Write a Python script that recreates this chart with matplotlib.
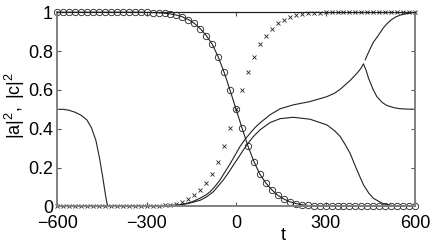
import matplotlib
matplotlib.use('Agg')
import matplotlib.pyplot as plt
import numpy as np

plt.rcParams['font.family'] = ['Liberation Sans', 'DejaVu Sans']
plt.rcParams['mathtext.fontset'] = 'custom'
plt.rcParams['mathtext.rm'] = 'Liberation Sans'
plt.rcParams['mathtext.it'] = 'Liberation Sans'

# marker time grid and the two marker series
t_mark = np.arange(-600, 601, 20)
circ = [1.0, 1.0, 1.0, 1.0, 1.0, 1.0, 1.0, 1.0, 1.0, 1.0, 1.0, 1.0, 1.0, 1.0, 1.0,
        0.999, 0.998, 0.997, 0.995, 0.991, 0.985, 0.976, 0.962, 0.943, 0.915,
        0.88, 0.835, 0.77, 0.69, 0.597, 0.5, 0.403, 0.31, 0.23, 0.165, 0.12,
        0.085, 0.057, 0.038, 0.024, 0.015, 0.009, 0.005, 0.003, 0.002, 0.001,
        0.0, 0.0, 0.0, 0.0, 0.0, 0.0, 0.0, 0.0, 0.0, 0.0, 0.0, 0.0, 0.0, 0.0, 0.0]
cross = [0.0, 0.0, 0.0, 0.0, 0.0, 0.0, 0.0, 0.0, 0.0, 0.0, 0.0, 0.0, 0.0, 0.0, 0.0,
         0.001, 0.002, 0.003, 0.005, 0.009, 0.015, 0.024, 0.038, 0.057, 0.085,
         0.12, 0.165, 0.23, 0.31, 0.403, 0.5, 0.597, 0.69, 0.77, 0.835, 0.88,
         0.915, 0.943, 0.962, 0.976, 0.985, 0.991, 0.995, 0.997, 0.998, 0.999,
         1.0, 1.0, 1.0, 1.0, 1.0, 1.0, 1.0, 1.0, 1.0, 1.0, 1.0, 1.0, 1.0, 1.0, 1.0]

# solid curves
tb = [-600, -580, -560, -540, -520, -500, -485, -470, -458, -447, -438, -432,
      -428, -300, -250, -200, -160, -120, -100, -76, -60, -43, -25, -9, 8, 24,
      40, 58, 80, 114, 148, 192, 248, 304, 330, 349, 365, 382, 405, 427, 445,
      460, 494, 527, 560, 600]
yb = [0.5, 0.5, 0.495, 0.485, 0.47, 0.445, 0.405, 0.34, 0.25, 0.15, 0.06, 0.01,
      0.0, 0.0, 0.002, 0.006, 0.015, 0.032, 0.048, 0.076, 0.105, 0.136, 0.175,
      0.213, 0.252, 0.29, 0.325, 0.36, 0.394, 0.432, 0.452, 0.459, 0.449, 0.42,
      0.39, 0.36, 0.32, 0.274, 0.188, 0.111, 0.068, 0.042, 0.013, 0.004, 0.001,
      0.0]

tc = [-600, -300, -250, -188, -150, -121, -100, -87, -70, -54, -37, -20, -3,
      13, 30, 47, 63, 80, 114, 148, 192, 248, 304, 330, 349, 365, 382, 405,
      418, 427, 436, 444, 452, 460, 472, 490, 505, 530, 550, 575, 600]
yc = [0.0, 0.0, 0.002, 0.008, 0.022, 0.042, 0.06, 0.076, 0.104, 0.136, 0.178,
      0.22, 0.265, 0.308, 0.345, 0.377, 0.405, 0.43, 0.472, 0.503, 0.523, 0.54,
      0.565, 0.583, 0.603, 0.625, 0.648, 0.685, 0.71, 0.734, 0.70, 0.66, 0.63,
      0.60, 0.565, 0.535, 0.52, 0.508, 0.503, 0.501, 0.5]

td = [433, 440, 449, 460, 472, 483, 494, 508, 522, 536, 550, 572, 590, 600]
yd = [0.755, 0.78, 0.81, 0.845, 0.87, 0.895, 0.92, 0.944, 0.963, 0.976, 0.985,
      0.993, 0.997, 1.0]

fig = plt.figure(figsize=(4.36, 2.49), dpi=100)
ax = fig.add_axes([0.131, 0.171, 0.821, 0.780])

lc = '#222222'
ax.plot(t_mark, circ, '-', color=lc, lw=0.8, marker='o', ms=4.6, mfc='none',
        mec=lc, mew=0.6, clip_on=False)
ax.plot(t_mark, cross, 'x', color=lc, ms=3.2, mew=0.6, clip_on=False)
ax.plot(tb, yb, color=lc, lw=0.8)
ax.plot(tc, yc, color=lc, lw=0.8)
ax.plot(td, yd, color=lc, lw=0.8)

ax.set_xlim(-600, 600)
ax.set_ylim(0, 1)
ax.set_xticks([-600, -300, 0, 300, 600])
ax.set_yticks([0, 0.2, 0.4, 0.6, 0.8, 1])
ax.set_yticklabels(['0', '0.2', '0.4', '0.6', '0.8', '1'])
ax.tick_params(direction='in', length=3, width=0.8, labelsize=13, pad=3,
               top=True, right=True, color='#555555')
ax.tick_params(axis='x', pad=6.5)

for side in ['left', 'bottom', 'right']:
    ax.spines[side].set_color('#808080')
    ax.spines[side].set_linewidth(1.4)
ax.spines['top'].set_color('#222222')
ax.spines['top'].set_linewidth(0.9)

ax.set_xlabel('t', fontsize=13)
ax.xaxis.set_label_coords(0.632, -0.105)
ax.set_ylabel(r'$\mathregular{|a|^2,\ |c|^2}$', fontsize=13)
ax.yaxis.set_label_coords(-0.084, 0.52)

fig.savefig('out.png', dpi=100)
